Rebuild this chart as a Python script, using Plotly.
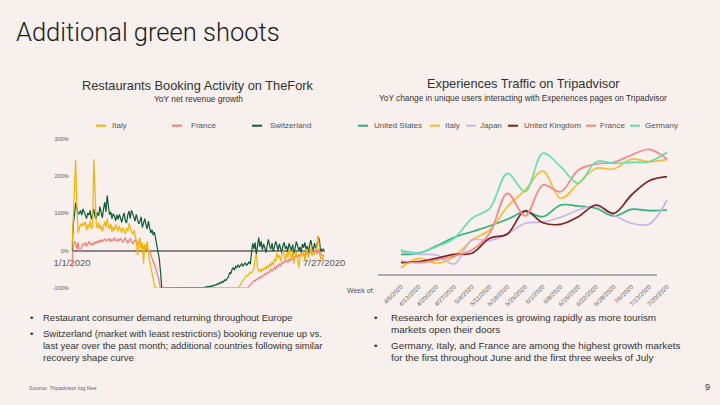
import pandas as pd
import plotly.graph_objects as go

W, H = 720, 405
BG = "#F8F0EC"

# ---------------- Left chart: Restaurants booking activity (daily, YoY %) ----------------
left_start = "2020-01-01"
left_end = "2020-07-27"
left_tick_labels = ["1/1/2020", "7/27/2020"]
left_y_ticks = [-100, 0, 100, 200, 300]

italy_daily = [
    5, 80, 150, 243, 120, 48, 60, 72, 65, 75,
    68, 78, 55, 70, 62, 80, 58, 66, 245, 120,
    72, 60, 75, 58, 68, 52, 70, 78, 62, 85,
    66, 58, 72, 50, 64, 55, 70, 60, 52, 66,
    58, 48, 62, 55, 45, 60, 52, 74, 58, 50,
    44, 55, 40, 28, -12, 20, 35, 5, 22, -35,
    18, 5, 25, -8, -30, -45, -60, -80, -95, -100,
    -100, -100, -100, -100, -100, -100, -100, -100, -100, -100,
    -100, -100, -100, -100, -100, -100, -100, -100, -100, -100,
    -100, -100, -100, -100, -100, -100, -100, -100, -100, -100,
    -100, -100, -100, -100, -100, -100, -100, -100, -100, -100,
    -100, -100, -100, -100, -100, -100, -100, -100, -100, -100,
    -100, -100, -100, -100, -100, -100, -100, -100, -100, -100,
    -100, -100, -100, -100, -100, -100, -100, -100, -96, -90,
    -85, -80, -74, -70, -66, -68, -62, -58, -60, -55,
    -48, -20, -10, -45, -55, -50, -58, -48, -52, -44,
    -50, -40, -46, -35, -42, -30, -38, -22, -28, -5,
    -20, -12, -28, -8, 0, -15, -25, -5, -18, 5,
    -10, -22, 0, -35, -12, -4, -20, -45, -18, -8,
    -15, -2, -28, -10, 5, -20, -6, 10, -12, -4,
    -10, 5, 12, 40, -5, -22, -18, -25, -22,
]

france_daily = [
    -45, 10, 25, 20, 5, 22, 0, -2, 10, 18,
    15, 22, 12, 18, 25, 16, 20, 14, 22, 18,
    25, 20, 28, 22, 30, 24, 27, 32, 26, 30,
    28, 33, 24, 30, 26, 35, 29, 25, 31, 27,
    33, 28, 22, 30, 34, 26, 20, 28, 32, 24,
    18, 25, 30, 22, 15, 26, 20, 12, 18, 5,
    10, 2, 8, -5, 0, -12, -20, -30, -35, -45,
    -55, -70, -85, -100, -100, -100, -100, -100, -100, -100,
    -100, -100, -100, -100, -100, -100, -100, -100, -100, -100,
    -100, -100, -100, -100, -100, -100, -100, -100, -100, -100,
    -100, -100, -100, -100, -100, -100, -100, -100, -100, -100,
    -100, -100, -100, -100, -100, -100, -100, -100, -100, -100,
    -100, -100, -100, -100, -100, -100, -100, -100, -100, -100,
    -100, -100, -100, -100, -100, -100, -100, -100, -100, -100,
    -100, -100, -100, -100, -100, -100, -95, -92, -88, -85,
    -80, -82, -76, -78, -72, -74, -68, -70, -66, -62,
    -64, -58, -60, -54, -50, -55, -48, -45, -50, -40,
    -42, -36, -40, -32, -35, -28, -30, -25, -32, -22,
    -26, -20, -24, -15, -18, -12, -20, -10, -14, -8,
    -12, -6, -15, -4, -10, -2, -8, 0, -12, -5,
    -3, 2, -8, 5, -10, -6, -12, -15, -10,
]

switzerland_daily = [
    0, 70, 95, 128, 112, 98, 100, 108, 95, 112,
    104, 92, 86, 101, 95, 108, 84, 97, 112, 90,
    86, 102, 94, 118, 103, 88, 112, 130, 104, 148,
    120, 96, 104, 86, 99, 93, 80, 96, 84, 97,
    88, 76, 90, 101, 80, 74, 96, 106, 86, 108,
    100, 90, 79, 97, 84, 72, 78, 91, 62, 76,
    86, 70, 58, 79, 60, 47, 56, 42, 50, 30,
    18, 0, -22, -56, -100, -100, -100, -100, -100, -100,
    -100, -100, -100, -100, -100, -100, -100, -100, -100, -100,
    -100, -100, -100, -100, -100, -100, -100, -100, -100, -100,
    -100, -100, -100, -100, -100, -100, -99, -100, -98, -99,
    -97, -98, -96, -97, -95, -96, -93, -94, -91, -92,
    -88, -90, -85, -87, -82, -84, -78, -80, -74, -70,
    -58, -62, -50, -46, -52, -42, -45, -38, -44, -40,
    -35, -42, -38, -32, -40, -34, -30, -36, -5, 20,
    5, 22, -10, 15, 35, 10, 25, 2, 18, 8,
    -5, 14, 30, 12, 4, 20, -2, 10, 25, 15,
    0, 18, 8, -6, 14, 22, 5, 12, -4, 20,
    10, 2, 16, -8, 6, 24, 14, 0, 10, -5,
    18, 8, 22, 4, 12, -6, 16, 28, 10, 2,
    20, 6, 14, 38, 30, -2, 4, 2, 5,
]

left_series = ["Italy", "France", "Switzerland"]
left_colors = {"Italy": "#F5B301", "France": "#F77B78", "Switzerland": "#0D5B37"}

# ---------------- Right chart: Experiences traffic (weekly, relative index) ----------------
week_labels = [
    "4/6/2020", "4/13/2020", "4/20/2020", "4/27/2020", "5/4/2020", "5/11/2020",
    "5/18/2020", "5/25/2020", "6/1/2020", "6/8/2020", "6/15/2020", "6/22/2020",
    "6/29/2020", "7/6/2020", "7/13/2020", "7/20/2020",
]
us_weekly = [20.7, 21.7, 29, 37.7, 43.3, 49, 55.7, 63.3, 58.3, 70, 69, 66.7, 59, 65.7, 64.3, 65]
italy_weekly = [7.3, 16.7, 11.7, 18.3, 35, 45, 68.3, 85, 104, 76.7, 91.7, 106.7, 106, 115.7, 113.3, 115.7]
japan_weekly = [23.3, 20.7, 20, 11, 35, 34.3, 41, 51.7, 53, 57.7, 65, 69, 60, 51.7, 51, 75]
uk_weekly = [12.3, 13.3, 16.7, 20.7, 21.7, 36.7, 41, 64.3, 52.3, 50.7, 58.3, 70, 61.7, 80, 94.3, 98.3]
france_weekly = [14, 12.3, 15, 19, 25, 41.7, 81.7, 59, 90, 83.3, 105, 111, 112.7, 120, 125.7, 116]
germany_weekly = [25, 22.3, 28.3, 36.7, 56.7, 66.7, 101.7, 83.3, 121.7, 108.3, 91.7, 113.3, 111.7, 112.7, 113.3, 122.7]

right_series = ["United States", "Italy", "Japan", "United Kingdom", "France", "Germany"]
right_values = {
    "United States": us_weekly, "Italy": italy_weekly, "Japan": japan_weekly,
    "United Kingdom": uk_weekly, "France": france_weekly, "Germany": germany_weekly,
}
right_colors = {
    "United States": "#2EB27A", "Italy": "#F7BC35", "Japan": "#C9B5E6",
    "United Kingdom": "#7B2424", "France": "#F88784", "Germany": "#5FE0AE",
}

left_bullets = [
    ["Restaurant consumer demand returning throughout Europe"],
    ["Switzerland (market with least restrictions) booking revenue up vs.",
     "last year over the past month; additional countries following similar",
     "recovery shape curve"],
]
right_bullets = [
    ["Research for experiences is growing rapidly as more tourism",
     "markets open their doors"],
    ["Germany, Italy, and France are among the highest growth markets",
     "for the first throughout June and the first three weeks of July"],
]


def px_x(x):
    return x / W


def px_y(y):
    return 1 - y / H


left_dates = pd.date_range(left_start, left_end, freq="D")
left_values = {"Italy": italy_daily, "France": france_daily, "Switzerland": switzerland_daily}

fig = go.Figure()

for name in ["France", "Switzerland", "Italy"]:
    fig.add_trace(go.Scatter(
        x=left_dates, y=left_values[name], mode="lines", name=name,
        line=dict(color=left_colors[name], width=1.2),
        xaxis="x", yaxis="y", showlegend=False,
    ))

for name in right_series:
    fig.add_trace(go.Scatter(
        x=week_labels, y=right_values[name], mode="lines", name=name,
        line=dict(color=right_colors[name], width=1.7, shape="spline", smoothing=1.0),
        xaxis="x2", yaxis="y2", showlegend=False,
    ))

FONT = "Liberation Sans"

fig.update_layout(
    template="none",
    width=W, height=H,
    autosize=False,
    margin=dict(l=0, r=0, t=0, b=0, pad=0, autoexpand=False),
    paper_bgcolor=BG, plot_bgcolor=BG,
    showlegend=False,
    font=dict(family=FONT, color="#333333"),
    xaxis=dict(
        domain=[px_x(71.7), px_x(324.5)],
        type="date",
        range=[left_dates[0] - pd.Timedelta(hours=6), left_dates[-1] + pd.Timedelta(hours=6)],
        tickvals=[left_dates[0], left_dates[-1]],
        ticktext=left_tick_labels,
        tickfont=dict(size=9.5, color="#5a5a5a"),
        ticks="", showgrid=False, zeroline=False,
        showline=True, linecolor="#8C8280", linewidth=1.5,
        anchor="free", position=px_y(250.7), layer="below traces",
        automargin=False, ticklabelstandoff=3,
    ),
    yaxis=dict(
        domain=[px_y(288), px_y(138.7)],
        range=[-100, 300],
        tickvals=left_y_ticks,
        ticktext=[f"{v}%" for v in left_y_ticks],
        tickfont=dict(size=5.5, color="#555555"),
        ticks="", showgrid=False, zeroline=False, showline=False,
        anchor="x", ticklabelstandoff=2, automargin=False,
    ),
    xaxis2=dict(
        domain=[px_x(370), px_x(680)],
        type="category",
        range=[-1.748, 15.733],
        tickangle=-45,
        tickfont=dict(size=6.2, color="#666666"),
        ticks="", showgrid=False, zeroline=False, showline=False,
        anchor="y2", automargin=False, ticklabelstandoff=6,
    ),
    yaxis2=dict(
        domain=[px_y(275), px_y(140)],
        range=[0, 135],
        visible=False,
        anchor="x2", automargin=False,
    ),
)

shapes = [
    dict(type="line", xref="paper", yref="paper",
         x0=px_x(378), x1=px_x(657), y0=px_y(275), y1=px_y(275),
         line=dict(color="#8E949C", width=1.5), layer="below"),
]
annotations = []


def text(x, y, s, size, color="#333333", xanchor="left", yanchor="middle", align="left", weight=None, family=FONT):
    f = dict(family=family, size=size, color=color)
    if weight:
        f["weight"] = weight
    annotations.append(dict(
        x=px_x(x), y=px_y(y), xref="paper", yref="paper", text=s, showarrow=False,
        xanchor=xanchor, yanchor=yanchor, align=align, font=f,
    ))


# Custom legends (short swatches as in the reference)
left_legend_pos = {"Italy": (96, 110), "France": (172, 189), "Switzerland": (252, 268)}
for name in left_series:
    sx, tx = left_legend_pos[name]
    shapes.append(dict(type="line", xref="paper", yref="paper",
                       x0=px_x(sx), x1=px_x(sx + 10), y0=px_y(125.7), y1=px_y(125.7),
                       line=dict(color=left_colors[name], width=2)))
    text(tx, 125.7, name, 8, color="#555555")

right_legend_pos = {
    "United States": (358, 372), "Italy": (430, 443), "Japan": (466, 478),
    "United Kingdom": (508, 522), "France": (586, 598), "Germany": (630, 643),
}
for name in right_series:
    sx, tx = right_legend_pos[name]
    shapes.append(dict(type="line", xref="paper", yref="paper",
                       x0=px_x(sx), x1=px_x(sx + 10), y0=px_y(125.7), y1=px_y(125.7),
                       line=dict(color=right_colors[name], width=2)))
    text(tx, 125.7, name, 8, color="#555555")

# Titles
text(14, 32.3, "Additional green shoots", 25.5, color="#1a1a1a", weight=300, family="Roboto")
text(198, 85, "Restaurants Booking Activity on TheFork", 12.8, xanchor="center")
text(198, 99, "YoY net revenue growth", 8.4, xanchor="center")
text(523, 84, "Experiences Traffic on Tripadvisor", 12.8, xanchor="center")
text(523, 98.3, "YoY change in unique users interacting with Experiences pages on Tripadvisor", 8.3, xanchor="center")
text(345, 290.7, "Week of:", 7, color="#555555")

# Bullets (one annotation per line)
bullet_layout = [
    (left_bullets, 31, 41, 9.5, [[317], [333, 345, 357]]),
    (right_bullets, 376, 389, 9.9, [[317, 329], [345, 357]]),
]
for paras, bx, tx, size, rows in bullet_layout:
    for lines, ys in zip(paras, rows):
        text(bx, ys[0], "•", size, xanchor="center")
        for line, y in zip(lines, ys):
            text(tx, y, line, size)

# Footer
text(27, 388, "Source: Tripadvisor log files", 5.5, color="#666666")
text(712, 387, "9", 9, color="#333333", xanchor="right")

fig.update_layout(shapes=shapes, annotations=annotations)

fig.write_html(
    "out.html",
    config={"displayModeBar": False},
    post_script="document.body.style.margin='0px';document.body.style.background='" + BG + "';",
)
